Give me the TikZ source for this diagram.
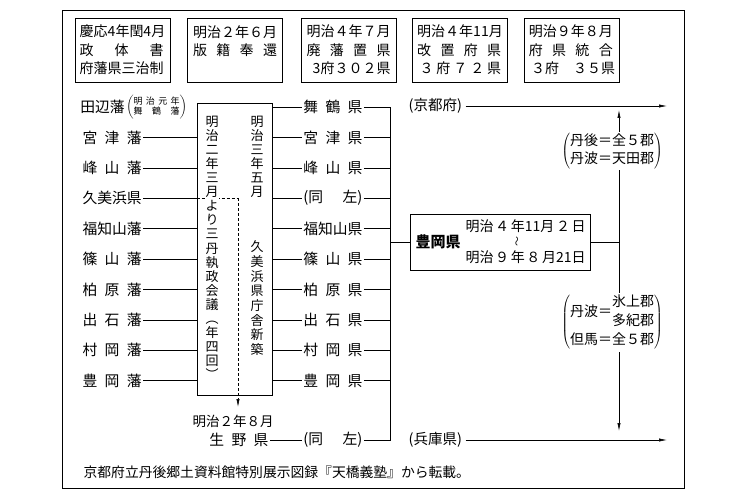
\documentclass[tikz,border=0pt]{standalone}
\usepackage{fontspec}
\setmainfont{Noto Sans CJK JP}
\usetikzlibrary{arrows.meta}
\newcommand\sprd[2]{\makebox[#1][s]{#2}}
\begin{document}
\begin{tikzpicture}[x=1pt,y=-1pt,line width=0.6pt,>={Latex[length=8pt,width=3.2pt]},
		era/.style={draw,minimum width=95pt,minimum height=64pt,align=left,inner sep=2pt,font=\fontsize{14}{18.5}\selectfont},
		han/.style={anchor=east,inner sep=1pt,font=\fontsize{14.8}{16}\selectfont},
		ken/.style={anchor=west,inner sep=1pt,font=\fontsize{14.8}{16}\selectfont},
		tate/.style={anchor=north,align=center,inner sep=0.5pt,fill=white}]
			\useasboundingbox (0,0) rectangle (740,495);
			\draw[line width=0.8pt] (62,10) rectangle (684,488);
			\node[era] (era1) at (122.5,50) {慶応4年閏4月\\\sprd{84pt}{政\hfill 体\hfill 書}\\府藩県三治制};
			\node[era] (era2) at (235,50) {明治２年６月\\\sprd{84pt}{版\hfill 籍\hfill 奉\hfill 還}\\\mbox{}};
			\node[era] (era3) at (348.5,50) {明治４年７月\\\sprd{84pt}{廃\hfill 藩\hfill 置\hfill 県}\\\sprd{84pt}{\hfill 3府３０２県}};
			\node[era] (era4) at (460,50) {明治４年11月\\\sprd{84pt}{改\hfill 置\hfill 府\hfill 県}\\\sprd{84pt}{\,３\hfill 府\hfill ７\hfill ２\hfill 県}};
			\node[era] (era5) at (572,50) {明治９年８月\\\sprd{84pt}{府\hfill 県\hfill 統\hfill 合}\\\,３府　３５県};
			\node[draw,minimum width=75pt,minimum height=292pt] (kaigi) at (234.5,249) {};
			\coordinate (bus) at (390,107);
			\node[han,anchor=west] (han0) at (79,107) {田辺藩};
			\node[anchor=west,inner sep=0pt,font=\fontsize{9}{9.5}\selectfont] (han0note) at (han0.east) {$\left(\begin{tabular}{@{}c@{}}\sprd{46pt}{明\hfill 治\hfill 元\hfill 年}\\\sprd{46pt}{舞\hfill 鶴\hfill 藩}\end{tabular}\right)$};
			\foreach \i/\l in {1/宮\hfill 津\hfill 藩,2/峰\hfill 山\hfill 藩,3/久美浜県,4/福知山藩,5/篠\hfill 山\hfill 藩,6/柏\hfill 原\hfill 藩,7/出\hfill 石\hfill 藩,8/村\hfill 岡\hfill 藩,9/豊\hfill 岡\hfill 藩} {
				\node[han] (han\i) at (143,107+30.4*\i) {\sprd{4em}{\l}};
				\draw (han\i.east) -- (han\i -| kaigi.west);
			}
			\foreach \i/\r in {0/舞\hfill 鶴\hfill 県,1/宮\hfill 津\hfill 県,2/峰\hfill 山\hfill 県,3/{(同\hfill 左)},4/福知山県,5/篠\hfill 山\hfill 県,6/柏\hfill 原\hfill 県,7/出\hfill 石\hfill 県,8/村\hfill 岡\hfill 県,9/豊\hfill 岡\hfill 県} {
				\node[ken] (ken\i) at (302,107+30.4*\i) {\sprd{4em}{\r}};
				\draw (kaigi.east |- ken\i) -- (ken\i.west);
				\draw (ken\i.east) -- (ken\i -| bus);
			}
			\node[font=\fontsize{13.5}{14}\selectfont] (ikunoera) at (233,421) {明治２年８月};
			\node[ken] (ikuno) at (208,440) {\sprd{4em}{生\hfill 野\hfill 県}};
			\node[ken] (dou) at (302,440) {\sprd{4em}{(同\hfill 左)}};
			\draw (ikuno.east) -- (dou.west);
			\draw (dou.east) -- (dou -| bus) -- (ken0 -| bus);
			\coordinate (turn) at (238,107+30.4*3);
			\draw[dash pattern=on 3pt off 2pt] (han3 -| kaigi.west) -- (turn);
			\draw[dash pattern=on 3pt off 2pt,->,shorten >=4pt] (turn) -- (turn |- ikunoera.north);
			\node[tate,font=\fontsize{13}{14.1}\selectfont] (kaigitext) at (212,115) {明\\治\\二\\年\\三\\月\\よ\\り\\三\\丹\\執\\政\\会\\議\\︵\\年\\四\\回\\︶};
			\node[tate,font=\fontsize{13}{14.1}\selectfont] (sanen) at (257,115) {明\\治\\三\\年\\五\\月};
			\node[tate,font=\fontsize{13}{14.7}\selectfont] (chosha) at (257,240) {久\\美\\浜\\県\\庁\\舎\\新\\築};
			\node[draw,minimum width=180pt,minimum height=56pt] (toyooka) at (500,242) {};
			\draw (bus |- toyooka.west) -- (toyooka.west);
			\node[anchor=west,font=\bfseries\fontsize{15}{16}\selectfont] (tyname) at (412,242) {豊岡県};
			\node[anchor=west,font=\fontsize{14}{15}\selectfont] (tyfrom) at (462,226) {\sprd{120pt}{明治\hfill ４\hfill 年11月\hfill ２\hfill 日}};
			\node[rotate=90,font=\fontsize{10}{10}\selectfont] (tywave) at (518,241) {〜};
			\node[anchor=west,font=\fontsize{14}{15}\selectfont] (tyto) at (462,257) {\sprd{120pt}{明治\hfill ９\hfill 年\hfill ８\hfill 月21日}};
			\node[anchor=west,font=\fontsize{14.5}{16}\selectfont] (kyoto) at (405,106) {(京都府)};
			\node[anchor=west,font=\fontsize{14.5}{16}\selectfont] (hyogo) at (405,440) {(兵庫県)};
			\coordinate (kyend) at (667,106);
			\coordinate (hyend) at (667,440);
			\draw[->] (kyoto.east) -- (kyend);
			\draw[->] (hyogo.east) -- (hyend);
			\coordinate (split) at (619,242);
			\draw (toyooka.east) -- (split);
			\draw[->,shorten >=4pt] (split) -- (split |- kyend);
			\draw[->,shorten >=9pt] (split) -- (split |- hyend);
			\node[fill=white,inner sep=1pt,font=\fontsize{14}{18}\selectfont] (tango) at (612,151) {$\left(\begin{tabular}{@{}l@{}}丹後＝全５郡\\丹波＝天田郡\end{tabular}\right)$};
			\node[fill=white,inner sep=1pt,font=\fontsize{14}{19}\selectfont] (tajima) at (612,322) {$\left(\begin{tabular}{@{}l@{}l@{}}\raisebox{-9.5pt}[0pt][0pt]{丹波＝}&氷上郡\\&多紀郡\\但馬＝&全５郡\end{tabular}\right)$};
			\node[anchor=west,font=\fontsize{13.8}{15}\selectfont] (source) at (80,472) {京都府立丹後郷土資料館特別展示図録『天橋義塾』から転載。};
		\end{tikzpicture}
\end{document}
